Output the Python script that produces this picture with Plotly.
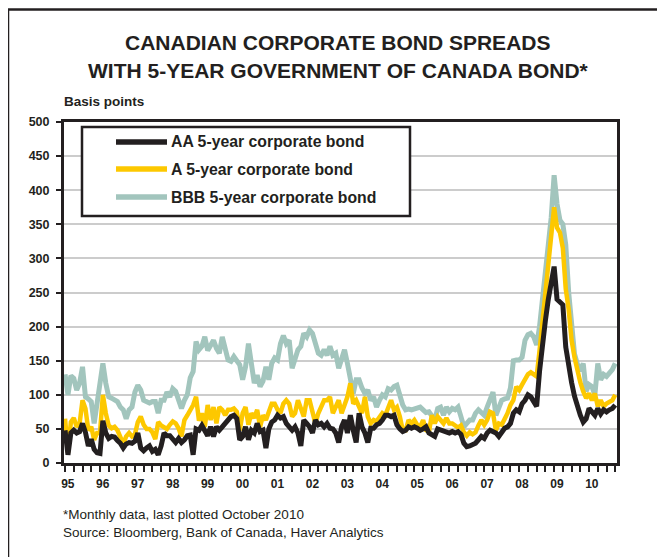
import plotly.graph_objects as go

# Monthly data, Jan 1995 .. Oct 2010 (basis points)
aa_spread = [
    48, 12, 44, 48, 44, 46, 58, 45, 25, 35, 20, 15,        # 1995
    14, 62, 44, 36, 39, 38, 33, 29, 22, 28, 30, 29,        # 1996
    32, 44, 22, 18, 22, 25, 17, 20, 12, 25, 44, 40,        # 1997
    40, 35, 30, 36, 30, 34, 40, 41, 12, 50, 48, 55,        # 1998
    48, 40, 53, 39, 53, 48, 53, 58, 62, 68, 70, 65,        # 1999
    34, 39, 53, 34, 48, 44, 58, 46, 48, 22, 50, 60,        # 2000
    63, 70, 66, 68, 58, 53, 48, 53, 44, 25, 63, 58,        # 2001
    53, 44, 63, 56, 58, 53, 58, 51, 50, 44, 30, 53,        # 2002
    63, 44, 70, 48, 30, 73, 53, 44, 30, 51, 51, 56,        # 2003
    58, 63, 70, 70, 68, 70, 56, 50, 46, 48, 53, 51,        # 2004
    53, 51, 48, 50, 53, 44, 42, 39, 50, 48, 46, 46,        # 2005
    44, 46, 44, 46, 42, 29, 24, 25, 27, 29, 34, 39,        # 2006
    36, 44, 48, 46, 44, 39, 46, 51, 53, 58, 73, 78,        # 2007
    75, 87, 92, 100, 97, 90, 83, 135, 180, 209, 240, 260,  # 2008
    288, 240, 237, 232, 170, 140, 118, 98, 82, 70, 60, 65, # 2009
    80, 75, 70, 80, 72, 78, 75, 78, 80, 85,                # 2010
]
a_spread = [
    65, 15, 60, 66, 53, 58, 92, 80, 48, 53, 34, 44,
    44, 100, 73, 55, 51, 53, 48, 39, 28, 39, 44, 39,
    42, 60, 68, 56, 50, 50, 45, 35, 60, 55, 52, 50,
    56, 61, 58, 51, 39, 63, 70, 78, 85, 97, 62, 73,
    53, 85, 63, 82, 58, 82, 78, 70, 78, 78, 80, 75,
    48, 73, 82, 56, 73, 66, 78, 53, 70, 63, 73, 87,
    87, 78, 73, 87, 92, 87, 68, 73, 92, 82, 68, 92,
    92, 75, 58, 73, 82, 92, 92, 97, 73, 82, 92, 73,
    87, 97, 117, 87, 92, 82, 73, 97, 68, 58, 63, 61,
    66, 73, 70, 82, 92, 78, 82, 68, 48, 48, 63, 58,
    63, 56, 53, 63, 48, 46, 70, 58, 68, 63, 58, 66,
    58, 58, 55, 52, 55, 45, 40, 45, 42, 45, 55, 63,
    56, 63, 75, 73, 48, 58, 56, 63, 73, 85, 92, 112,
    107, 115, 122, 130, 133, 130, 127, 165, 210, 250, 290, 330,
    375, 345, 338, 315, 255, 225, 180, 155, 132, 118, 105, 95,
    102, 92, 102, 83, 92, 83, 87, 90, 92, 100,
]
bbb_spread = [
    130, 100, 128, 124, 107, 117, 141, 97, 94, 90, 58, 88,
    122, 146, 117, 97, 95, 92, 90, 82, 78, 65, 78, 82,
    104, 114, 107, 92, 90, 88, 90, 90, 73, 92, 92, 104,
    97, 109, 105, 92, 80, 92, 100, 125, 134, 178, 166, 171,
    185, 165, 171, 180, 168, 161, 185, 166, 151, 149, 156, 150,
    144, 122, 141, 175, 149, 117, 129, 112, 120, 141, 122, 146,
    154, 151, 175, 187, 175, 180, 139, 150, 166, 171, 190, 185,
    195, 190, 175, 161, 158, 166, 158, 171, 158, 161, 139, 155,
    166, 146, 127, 102, 122, 122, 110, 102, 107, 92, 97, 82,
    92, 100, 97, 109, 107, 112, 114, 97, 85, 78, 79, 78,
    79, 80, 82, 78, 74, 75, 70, 63, 80, 82, 70, 82,
    75, 80, 78, 82, 68, 53, 58, 63, 63, 73, 78, 75,
    70, 82, 92, 104, 70, 80, 92, 94, 95, 110, 150, 151,
    151, 155, 180, 188, 190, 185, 173, 200, 245, 275, 320, 360,
    422, 380, 356, 350, 320, 250, 200, 160, 145, 135, 146, 105,
    115, 112, 100, 146, 122, 130, 127, 131, 137, 146,
]
start_year = 1995
year_labels = ["95", "96", "97", "98", "99", "00", "01", "02",
               "03", "04", "05", "06", "07", "08", "09", "10"]
series_names = ["AA 5-year corporate bond", "A 5-year corporate bond",
                "BBB 5-year corporate bond"]
series_colors = ["#231f20", "#fdc800", "#a2c5bd"]

n = len(aa_spread)
x_vals = [start_year + i / 12.0 for i in range(n)]

fig = go.Figure()
# draw order: BBB at bottom, then A, then AA on top
for vals, name, col, w in [(bbb_spread, series_names[2], series_colors[2], 5.0),
                           (a_spread, series_names[1], series_colors[1], 4.5),
                           (aa_spread, series_names[0], series_colors[0], 5.0)]:
    fig.add_trace(go.Scatter(x=x_vals, y=vals, mode="lines", name=name,
                             line=dict(color=col, width=w, shape="linear"),
                             showlegend=False))

# page body has an 8px margin; lay out in reference pixel coordinates, shifted
OFF = 8
W, H = 665 - OFF, 557 - OFF
L, R, T, B = 64 - OFF, 617 - OFF, 122 - OFF, 463 - OFF
def px(xp):
    return (xp - OFF - L) / (R - L)
def py(yp):
    return (B - (yp - OFF)) / (B - T)

year_ticks = [start_year + k + 0.08 for k in range(len(year_labels))]
quarter_ticks = [start_year + q * 0.25 for q in range(0, 64)]

fig.update_layout(
    width=W, height=H,
    margin=dict(l=L, r=W - R, t=T, b=H - B, pad=0),
    paper_bgcolor="white", plot_bgcolor="white",
    font=dict(family="Liberation Sans, Arial, sans-serif", color="#231f20"),
    xaxis=dict(range=[1994.97, 2010.80], tickmode="array", tickvals=year_ticks,
               ticktext=year_labels, ticks="", showgrid=False, zeroline=False,
               showline=True, linecolor="#231f20", linewidth=2.5, mirror=True,
               tickfont=dict(size=12, family="Liberation Sans, Arial", color="#231f20",
                             weight="bold"),
               ticklabelstandoff=8,
               minor=dict(tickmode="array", tickvals=quarter_ticks, ticks="outside",
                          ticklen=6, tickwidth=2, tickcolor="#231f20", showgrid=False)),
    yaxis=dict(range=[0, 500], tickmode="linear", tick0=0, dtick=50,
               ticks="outside", ticklen=5, tickwidth=2, tickcolor="#231f20",
               showgrid=True, gridcolor="#cccccc", gridwidth=1.5, zeroline=False,
               showline=True, linecolor="#231f20", linewidth=3, mirror=True,
               tickfont=dict(size=12.5, family="Liberation Sans, Arial", color="#231f20",
                             weight="bold"),
               ticklabelstandoff=4),
)

shapes = []
# outer frame (top and left edges visible)
shapes.append(dict(type="line", xref="paper", yref="paper",
                   x0=px(8), x1=px(700), y0=py(9.5), y1=py(9.5),
                   line=dict(color="#231f20", width=2.5)))
shapes.append(dict(type="line", xref="paper", yref="paper",
                   x0=px(8), x1=px(8), y0=py(9.5), y1=py(600),
                   line=dict(color="#231f20", width=2.5)))
# legend box
shapes.append(dict(type="rect", xref="paper", yref="paper",
                   x0=px(82), x1=px(410), y0=py(127), y1=py(216),
                   line=dict(color="#231f20", width=2.5), fillcolor="white", layer="above"))
rows = [142, 169, 197]
annotations = []
for i in range(3):
    shapes.append(dict(type="line", xref="paper", yref="paper",
                       x0=px(116), x1=px(167), y0=py(rows[i]), y1=py(rows[i]),
                       line=dict(color=series_colors[i], width=5.5), layer="above"))
    annotations.append(dict(xref="paper", yref="paper", x=px(169), y=py(rows[i]),
                            text="<b>%s</b>" % series_names[i], showarrow=False,
                            xanchor="left", yanchor="middle",
                            font=dict(size=15.8, color="#231f20")))

# titles
annotations.append(dict(xref="paper", yref="paper", x=px(337), y=py(42),
                        text="<b>CANADIAN CORPORATE BOND SPREADS</b>", showarrow=False,
                        xanchor="center", yanchor="middle",
                        font=dict(size=21, color="#231f20")))
annotations.append(dict(xref="paper", yref="paper", x=px(338), y=py(71),
                        text="<b>WITH 5-YEAR GOVERNMENT OF CANADA BOND*</b>", showarrow=False,
                        xanchor="center", yanchor="middle",
                        font=dict(size=21, color="#231f20")))
annotations.append(dict(xref="paper", yref="paper", x=px(62), y=py(101),
                        text="<b>Basis points</b>", showarrow=False,
                        xanchor="left", yanchor="middle",
                        font=dict(size=13.5, color="#231f20")))
annotations.append(dict(xref="paper", yref="paper", x=px(61), y=py(514),
                        text="*Monthly data, last plotted October 2010", showarrow=False,
                        xanchor="left", yanchor="middle",
                        font=dict(size=13.5, color="#231f20")))
annotations.append(dict(xref="paper", yref="paper", x=px(61), y=py(532),
                        text="Source: Bloomberg, Bank of Canada, Haver Analytics", showarrow=False,
                        xanchor="left", yanchor="middle",
                        font=dict(size=13.5, color="#231f20")))

fig.update_layout(shapes=shapes, annotations=annotations)
fig.write_html("out.html")
